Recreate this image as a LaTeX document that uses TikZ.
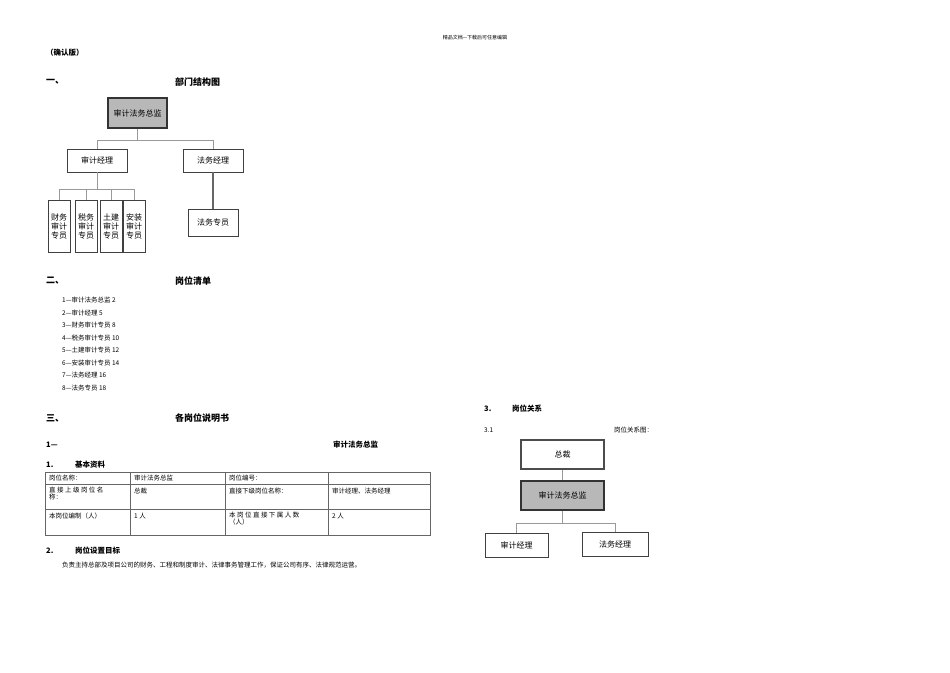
\documentclass[tikz,border=0pt]{standalone}
\usepackage{fontspec}
\setmainfont{Noto Sans CJK SC}
\newfontfamily\hd{Noto Sans CJK SC}
\begin{document}
\begin{tikzpicture}[x=1pt,y=-1pt,
  bx/.style={draw=black!75,fill=white,line width=0.8pt,inner sep=0pt,font=\fontsize{8}{9}\selectfont,align=center},
  gbx/.style={draw=black!80,fill=black!28,line width=2pt,inner sep=0pt,font=\fontsize{8}{9}\selectfont},
  cn/.style={draw=black!40,line width=0.5pt},
  t/.style={anchor=west,inner sep=0pt,font=\fontsize{6.5}{7}\selectfont},
  b/.style={anchor=west,inner sep=0pt,font=\bfseries\fontsize{7.5}{8}\selectfont},
  h/.style={anchor=west,inner sep=0pt,font=\bfseries\fontsize{9}{10}\selectfont}]
\useasboundingbox (0,0) rectangle (950,672);
\fill[white] (0,0) rectangle (950,672);
\node[inner sep=0pt,font=\fontsize{5}{6}\selectfont] (hdr) at (475,38) {精品文档---下载后可任意编辑};
\node[b] (cv) at (46,53) {（确认版）};
\node[h] (s1) at (46,82) {一、};
\node[h] (s1t) at (175,82) {部门结构图};
% org chart
\node[gbx,minimum width=59pt,minimum height=30pt] (top) at (137.5,113) {审计法务总监};
\node[bx,minimum width=60pt,minimum height=23pt] (am) at (97,160.5) {审计经理};
\node[bx,minimum width=60pt,minimum height=23pt] (lm) at (213,160.5) {法务经理};
\node[bx,minimum width=22pt,minimum height=52pt] (a1) at (59,226) {财务\\审计\\专员};
\node[bx,minimum width=22pt,minimum height=52pt] (a2) at (86,226) {税务\\审计\\专员};
\node[bx,minimum width=22pt,minimum height=52pt] (a3) at (111,226) {土建\\审计\\专员};
\node[bx,minimum width=22pt,minimum height=52pt] (a4) at (134,226) {安装\\审计\\专员};
\node[bx,minimum width=50pt,minimum height=27pt] (ls) at (213,222.5) {法务专员};
\draw[cn] (top.south) -- ++(0,11) -| (am.north);
\draw[cn] (top.south) ++(0,11) -| (lm.north);
\draw[cn] (am.south) -- ++(0,17) coordinate (j) -| (a1.north);
\draw[cn] (j) -| (a2.north);
\draw[cn] (j) -| (a3.north);
\draw[cn] (j) -| (a4.north);
\draw[draw=black!60,line width=1.2pt] (lm.south) -- (ls.north);
% list
\node[h] (s2) at (46,281) {二、};
\node[h] (s2t) at (175,281) {岗位清单};
\foreach \y/\s [count=\i] in {300/1—审计法务总监 2,313/2—审计经理 5,325/3—财务审计专员 8,338/4—税务审计专员 10,350/5—土建审计专员 12,363/6—安装审计专员 14,375/7—法务经理 16,388/8—法务专员 18}
  \node[t] (l\i) at (62,\y) {\s};
\node[h] (s3) at (46,418) {三、};
\node[h] (s3t) at (175,418) {各岗位说明书};
\node[b] (p1) at (46,445) {1—};
\node[b] (p1t) at (333,445) {审计法务总监};
\node[b] (b1) at (46,465) {1.};
\node[b] (b1t) at (75,465) {基本资料};
% table
\draw[black!60,line width=0.6pt] (45,472) rectangle (430,535);
\draw[black!60,line width=0.5pt] (45,484) -- (430,484) (45,509) -- (430,509)
  (130,472) -- (130,535) (225,472) -- (225,535) (328,472) -- (328,535);
\node[t] (c11) at (49,478) {岗位名称：};
\node[t] (c12) at (134,478) {审计法务总监};
\node[t] (c13) at (229,478) {岗位编号：};
\node[t,align=left,anchor=north west] (c21) at (49,487) {直 接 上 级 岗 位 名\\称：};
\node[t] (c22) at (134,491) {总裁};
\node[t] (c23) at (229,491) {直接下级岗位名称：};
\node[t] (c24) at (332,491) {审计经理、法务经理};
\node[t] (c31) at (49,516) {本岗位编制（人）};
\node[t] (c32) at (134,516) {1 人};
\node[t,align=left,anchor=north west] (c33) at (229,512) {本 岗 位 直 接 下 属 人 数\\（人）};
\node[t] (c34) at (332,516) {2 人};
\node[b] (b2) at (46,551) {2.};
\node[b] (b2t) at (75,551) {岗位设置目标};
\node[t] (para) at (62,565) {负责主持总部及项目公司的财务、工程和制度审计、法律事务管理工作，保证公司有序、法律规范运营。};
% right
\node[b] (r3) at (484,409) {3.};
\node[b] (r3t) at (512,409) {岗位关系};
\node[t] (r31) at (484,430) {3.1};
\node[t] (r31t) at (614,430) {岗位关系图：};
\node[bx,draw=black!70,line width=1.2pt,minimum width=83pt,minimum height=29pt] (pr) at (562.5,454.5) {总裁};
\node[gbx,minimum width=83pt,minimum height=29pt] (d) at (562.5,495.5) {审计法务总监};
\node[bx,minimum width=63pt,minimum height=24pt] (ram) at (516.5,545) {审计经理};
\node[bx,minimum width=66pt,minimum height=24pt] (rlm) at (615,544) {法务经理};
\draw[cn] (pr.south) -- (d.north);
\draw[cn] (d.south) -- ++(0,12) coordinate (k) -| (ram.north);
\draw[cn] (k) -| (rlm.north);
\end{tikzpicture}
\end{document}
